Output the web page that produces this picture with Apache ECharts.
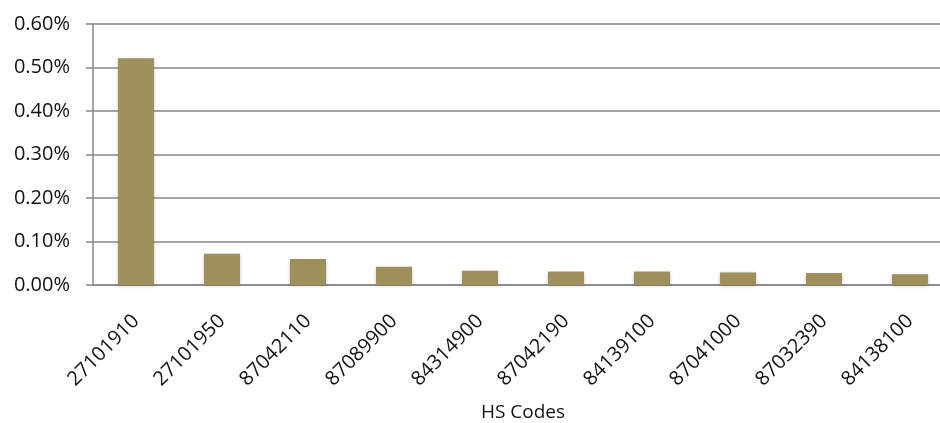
<!DOCTYPE html>
<html>
<head>
<meta charset="utf-8">
<script src="https://cdn.jsdelivr.net/npm/echarts@6/dist/echarts.min.js"></script>
<style>
  html, body { margin: 0; padding: 0; background: #fff; }
  #chart { width: 940px; height: 423px; }
</style>
</head>
<body>
<div id="chart"></div>
<script>
// HS codes and their share (in percent)
const hsCodes = ['27101910', '27101950', '87042110', '87089900', '84314900',
                 '87042190', '84139100', '87041000', '87032390', '84138100'];
const sharePct = [0.521, 0.072, 0.060, 0.042, 0.033, 0.031, 0.031, 0.029, 0.0276, 0.025];
const yTicks = { min: 0, max: 0.6, step: 0.1 };
const xTitle = 'HS Codes';

const font = '"Open Sans", "Noto Sans", sans-serif';
const gridGray = '#878787';

const chart = echarts.init(document.getElementById('chart'), null, { renderer: 'canvas' });
chart.setOption({
  animation: false,
  backgroundColor: '#ffffff',
  // axis title centred under the plot area
  title: {
    text: xTitle,
    left: 523,
    top: 403,
    textAlign: 'center',
    padding: 0,
    textStyle: { fontFamily: font, fontSize: 19, fontWeight: 'normal', color: '#111' }
  },
  grid: { left: 93, top: 24, width: 860, bottom: 138, outerBoundsMode: 'none', containLabel: false },
  xAxis: {
    type: 'category',
    data: hsCodes,
    axisLine: { show: true, lineStyle: { color: gridGray, width: 1.5 } },
    axisTick: { show: false },
    axisLabel: {
      rotate: 45,
      margin: 33,
      fontFamily: font,
      fontSize: 20,
      color: '#111'
    }
  },
  yAxis: {
    type: 'value',
    min: yTicks.min,
    max: yTicks.max,
    interval: yTicks.step,
    axisLine: { show: true, lineStyle: { color: gridGray, width: 1.5 } },
    axisTick: { show: true, length: 7, lineStyle: { color: gridGray, width: 1.5 } },
    splitLine: { show: true, lineStyle: { color: gridGray, width: 1.5 } },
    axisLabel: {
      margin: 23,
      fontFamily: font,
      fontSize: 20,
      color: '#111',
      formatter: v => v.toFixed(2) + '%'
    }
  },
  series: [{
    type: 'bar',
    data: sharePct,
    barWidth: 36,
    itemStyle: {
      color: '#9E8F5B',
      shadowBlur: 3,
      shadowColor: 'rgba(0,0,0,0.25)',
      shadowOffsetY: 1
    }
  }]
});
</script>
</body>
</html>
